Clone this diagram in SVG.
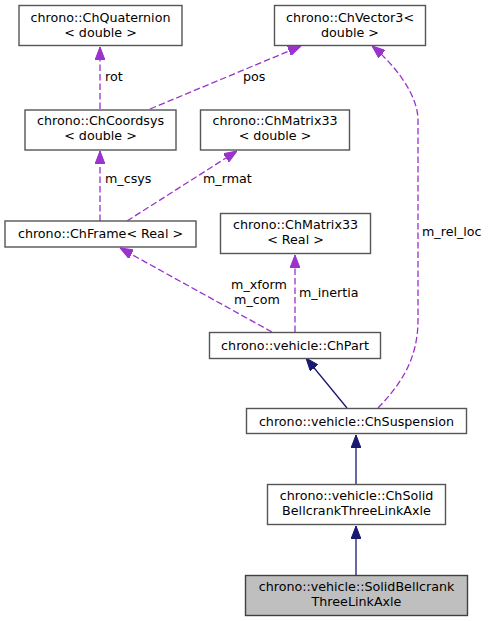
<svg xmlns="http://www.w3.org/2000/svg" width="491" height="621" viewBox="0 0 491 621">
<style>
.n rect{fill:#fff;stroke:#555;stroke-width:1.4}
.n.h rect{fill:#bfbfbf;stroke:#404040}
text{font-family:"DejaVu Sans",sans-serif;font-size:12.7px;fill:#000}
.n text{text-anchor:middle}
.d{fill:none;stroke:#9a32cd;stroke-width:1.3;stroke-dasharray:6.5,3}
.s{fill:none;stroke:#191970;stroke-width:1.3}
</style>
<defs>
<marker id="ap" viewBox="0 0 13 10" refX="13" refY="5" markerWidth="13" markerHeight="10" markerUnits="userSpaceOnUse" orient="auto"><path d="M0,0 L13,5 L0,10 z" fill="#9a32cd" stroke="#9a32cd"/></marker>
<marker id="an" viewBox="0 0 13 10" refX="13" refY="5" markerWidth="13" markerHeight="10" markerUnits="userSpaceOnUse" orient="auto"><path d="M0,0 L13,5 L0,10 z" fill="#191970" stroke="#191970"/></marker>
</defs>
<g id="edges">
<path class="d" d="M100,109 L100,47" marker-end="url(#ap)"/>
<text x="105" y="81">rot</text>
<path class="d" d="M150,109 L301,46" marker-end="url(#ap)"/>
<text x="243" y="81">pos</text>
<path class="d" d="M100,221 L100,151" marker-end="url(#ap)"/>
<text x="105" y="183">m_csys</text>
<path class="d" d="M127,221 L237,151" marker-end="url(#ap)"/>
<text x="203" y="183">m_rmat</text>
<path class="d" d="M272,332 L120,248" marker-end="url(#ap)"/>
<text x="259" y="289" text-anchor="middle">m_xform</text>
<text x="257" y="304" text-anchor="middle">m_com</text>
<path class="d" d="M295,332 L295,255" marker-end="url(#ap)"/>
<text x="299" y="297">m_inertia</text>
<path class="d" d="M378,408 C400,385 418,360 418,320 L418,120 C418,95 395,65 372,46" marker-end="url(#ap)"/>
<text x="422" y="236">m_rel_loc</text>
<path class="s" d="M347,408 L306,358" marker-end="url(#an)"/>
<path class="s" d="M356,484 L356,435" marker-end="url(#an)"/>
<path class="s" d="M356,575 L356,526" marker-end="url(#an)"/>
</g>
<g id="n_quat" class="n"><rect x="19" y="5.5" width="163" height="40"/><text x="100.5" y="21.5">chrono::ChQuaternion</text><text x="100.5" y="36.5">&lt; double &gt;</text></g>
<g id="n_vec3" class="n"><rect x="274.5" y="5.5" width="151" height="40"/><text x="350" y="21.5">chrono::ChVector3&lt;</text><text x="350" y="36.5">double &gt;</text></g>
<g id="n_coord" class="n"><rect x="25" y="110" width="151" height="40"/><text x="100.5" y="125">chrono::ChCoordsys</text><text x="100.5" y="140">&lt; double &gt;</text></g>
<g id="n_m33d" class="n"><rect x="200.5" y="110" width="149" height="40"/><text x="275" y="125">chrono::ChMatrix33</text><text x="275" y="140">&lt; double &gt;</text></g>
<g id="n_frame" class="n"><rect x="5" y="221" width="191" height="26"/><text x="100.5" y="238">chrono::ChFrame&lt; Real &gt;</text></g>
<g id="n_m33r" class="n"><rect x="220.5" y="213.5" width="150" height="40"/><text x="295.5" y="228.5">chrono::ChMatrix33</text><text x="295.5" y="243.5">&lt; Real &gt;</text></g>
<g id="n_part" class="n"><rect x="209.5" y="332.5" width="171" height="26"/><text x="295" y="349.5">chrono::vehicle::ChPart</text></g>
<g id="n_susp" class="n"><rect x="246.5" y="408.5" width="220" height="25"/><text x="356.5" y="425.5">chrono::vehicle::ChSuspension</text></g>
<g id="n_chsolid" class="n"><rect x="267.5" y="484.5" width="178" height="40"/><text x="356.5" y="499.5">chrono::vehicle::ChSolid</text><text x="356.5" y="514.5">BellcrankThreeLinkAxle</text></g>
<g id="n_solid" class="n h"><rect x="245.5" y="575.5" width="222" height="40"/><text x="356.5" y="590.5">chrono::vehicle::SolidBellcrank</text><text x="356.5" y="605.5">ThreeLinkAxle</text></g>
</svg>
